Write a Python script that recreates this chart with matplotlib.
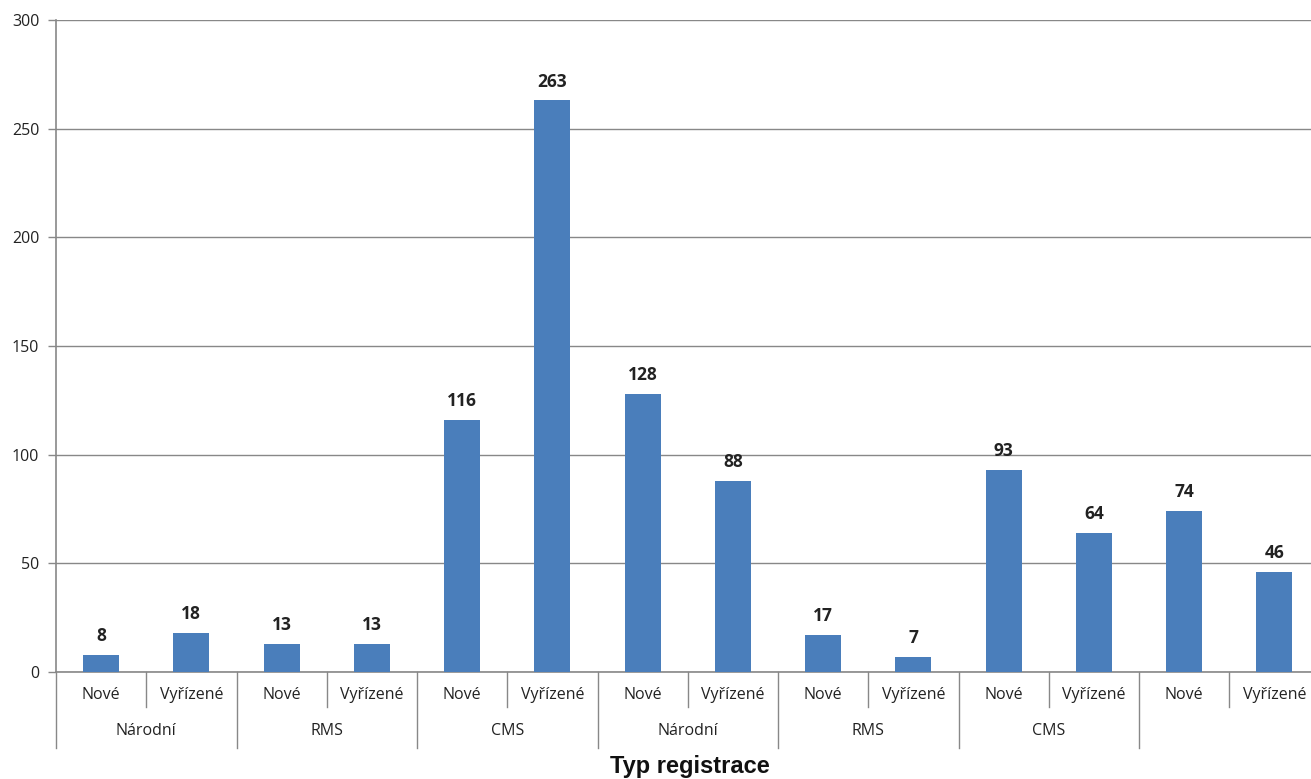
import matplotlib
matplotlib.use("Agg")
import matplotlib.pyplot as plt
import matplotlib.transforms as mtransforms
import numpy as np

sub_labels = ["Nové", "Vyřízené"] * 7
group_labels = ["Národní", "RMS", "CMS", "Národní", "RMS", "CMS", ""]
values = [8, 18, 13, 13, 116, 263, 128, 88, 17, 7, 93, 64, 74, 46]
y_ticks = [0, 50, 100, 150, 200, 250, 300]
x_title = "Typ registrace"

plt.rcParams['font.family'] = ['Open Sans', 'DejaVu Sans']

fig = plt.figure(figsize=(13.11, 7.79), dpi=100)
# plot area runs slightly past the right edge of the image, as in the reference
ax = fig.add_axes([56/1311, 1-672/779, 1263.5/1311, 652/779])

x = np.arange(len(values))
bar_color = "#4a7ebb"
grid_color = "#888888"
ax.bar(x, values, width=0.4, color=bar_color, zorder=3)

for xi, v in zip(x, values):
    ax.annotate(str(v), (xi, v), xytext=(0, 7), textcoords="offset points",
                ha="center", va="bottom", fontsize=12.5, fontweight="bold", color="#222222")

ax.set_xlim(-0.5, len(values) - 0.5)
ax.set_ylim(0, 300)
ax.set_yticks(y_ticks)
ax.set_yticklabels([str(t) for t in y_ticks], fontsize=11.5, color="#222222")
ax.yaxis.grid(True, color=grid_color, linewidth=1, zorder=0)
ax.tick_params(axis="y", length=6, color=grid_color, width=1, pad=6)
ax.set_xticks([])
for s in ["top", "right"]:
    ax.spines[s].set_visible(False)
ax.spines["left"].set_color(grid_color)
ax.spines["bottom"].set_color(grid_color)
ax.spines["left"].set_linewidth(1.2)
ax.spines["bottom"].set_linewidth(1.2)

trans = mtransforms.blended_transform_factory(ax.transData, ax.transAxes)
sub_bottom = -35/652
grp_bottom = -76/652
for b in np.arange(0.5, len(values) - 1, 2):
    ax.plot([b, b], [0, sub_bottom], transform=trans, color=grid_color, lw=1, clip_on=False)
for b in np.arange(-0.5, len(values) - 1, 2):
    ax.plot([b, b], [0, grp_bottom], transform=trans, color=grid_color, lw=1, clip_on=False)

for xi, lab in zip(x, sub_labels):
    ax.text(xi, -23/652, lab, transform=trans, ha="center", va="center", fontsize=11.5, color="#222222")
for gi, lab in enumerate(group_labels):
    ax.text(2*gi + 0.5, -59/652, lab, transform=trans, ha="center", va="center", fontsize=11.5, color="#222222")

fig.text(690/1311, 1-766/779, x_title, ha="center", va="center",
         fontsize=17, fontweight="bold", family=["Liberation Sans", "DejaVu Sans"], color="#111111")

fig.savefig("out.png", dpi=100)
